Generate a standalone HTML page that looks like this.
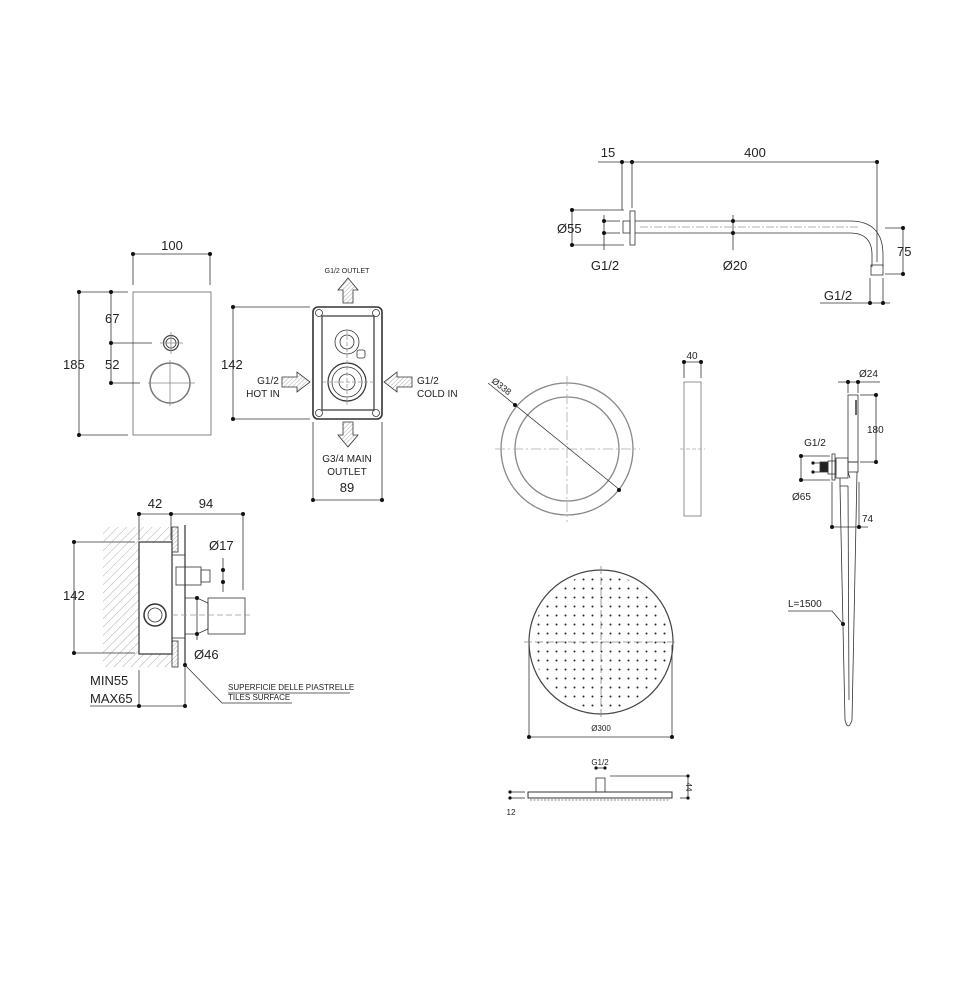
<!DOCTYPE html>
<html><head><meta charset="utf-8"><style>
html,body{margin:0;padding:0;background:#fff}
svg{display:block}
text{font-family:"Liberation Sans",sans-serif;fill:#222}
</style></head><body>
<svg width="978" height="984" viewBox="0 0 978 984" xmlns="http://www.w3.org/2000/svg">
<defs>
<pattern id="hatch" width="6" height="6" patternUnits="userSpaceOnUse" patternTransform="rotate(45)">
<line x1="0" y1="0" x2="0" y2="6" stroke="#999" stroke-width="0.8"/></pattern>
<pattern id="hatch2" width="3" height="3" patternUnits="userSpaceOnUse" patternTransform="rotate(45)">
<line x1="0" y1="0" x2="0" y2="3" stroke="#777" stroke-width="0.6"/></pattern>
<pattern id="holes" width="9" height="9" patternUnits="userSpaceOnUse" x="597" y="638">
<circle cx="4.5" cy="4.5" r="1" fill="#222"/></pattern>
<clipPath id="hc"><circle cx="601" cy="642" r="68"/></clipPath>
</defs>
<g stroke="#333" stroke-width="0.8" fill="none">
<!-- Left panel -->
<line x1="133" y1="254" x2="210" y2="254"/><line x1="133" y1="254" x2="133" y2="285"/><line x1="210" y1="254" x2="210" y2="285"/>
<rect x="133" y="292" width="78" height="143" stroke="#666"/>
<line x1="79" y1="292" x2="79" y2="435"/><line x1="79" y1="292" x2="128" y2="292"/><line x1="79" y1="435" x2="128" y2="435"/>
<line x1="111" y1="292" x2="111" y2="383"/><line x1="111" y1="343" x2="152" y2="343"/><line x1="111" y1="383" x2="140" y2="383"/>
<circle cx="171" cy="343" r="7.5" stroke="#444" stroke-width="1.2"/><circle cx="171" cy="343" r="5"/>
<line x1="160" y1="343" x2="183" y2="343" stroke="#888"/><line x1="171" y1="332" x2="171" y2="354" stroke="#888"/>
<circle cx="170" cy="383" r="20" stroke="#777" stroke-width="1.5"/>
<line x1="148" y1="383" x2="195" y2="383" stroke="#888"/><line x1="170" y1="360" x2="170" y2="406" stroke="#888"/>
<!-- Box -->
<line x1="233" y1="307" x2="310" y2="307"/><line x1="233" y1="419" x2="310" y2="419"/><line x1="233" y1="307" x2="233" y2="419"/>
<rect x="313" y="307" width="69" height="112" rx="5" stroke="#333" stroke-width="1.6"/>
<rect x="322" y="316" width="52" height="94" stroke-width="1.2"/>
<circle cx="319" cy="313" r="3.5"/><circle cx="376" cy="313" r="3.5"/><circle cx="319" cy="413" r="3.5"/><circle cx="376" cy="413" r="3.5"/>
<circle cx="347" cy="342" r="12"/><circle cx="347" cy="342" r="7"/>
<circle cx="347" cy="382" r="19" stroke-width="1.2"/><circle cx="347" cy="382" r="15"/><circle cx="347" cy="382" r="8"/>
<line x1="322" y1="382" x2="374" y2="382" stroke="#999" stroke-dasharray="4 2"/><line x1="347" y1="330" x2="347" y2="405" stroke="#999" stroke-dasharray="4 2"/>
<rect x="357" y="350" width="8" height="8" rx="2"/>
<line x1="313" y1="422" x2="313" y2="500"/><line x1="382" y1="422" x2="382" y2="500"/><line x1="313" y1="500" x2="382" y2="500"/>
<!-- arrows -->
<path d="M343 303 V290 H338 L348 278 L358 290 H353 V303 Z" fill="url(#hatch2)"/>
<path d="M343 422 V435 H338 L348 447 L358 435 H353 V422 Z" fill="url(#hatch2)"/>
<path d="M282 377 H297 V372 L310 382 L297 392 V387 H282 Z" fill="url(#hatch2)"/>
<path d="M412 377 H397 V372 L384 382 L397 392 V387 H412 Z" fill="url(#hatch2)"/>
<!-- Section -->
<path d="M103 527 H172 V667 H103" fill="url(#hatch)" stroke="none"/>
<rect x="139" y="542" width="33" height="112" fill="#fff" stroke-width="1.2"/>
<line x1="139" y1="514" x2="243" y2="514"/><line x1="139" y1="514" x2="139" y2="540"/><line x1="171" y1="514" x2="171" y2="540"/><line x1="243" y1="514" x2="243" y2="590"/>
<rect x="172" y="527" width="6" height="25" fill="url(#hatch2)"/><rect x="172" y="641" width="6" height="26" fill="url(#hatch2)"/>
<line x1="185" y1="525" x2="185" y2="665" stroke-width="1.2"/>
<rect x="172" y="555" width="13" height="83"/>
<rect x="176" y="567" width="25" height="18"/><rect x="201" y="570" width="9" height="12"/>
<path d="M185 598 H197 L208 603 V629 L197 634 H185" />
<rect x="208" y="598" width="37" height="36"/>
<circle cx="155" cy="615" r="11" stroke-width="1.5"/><circle cx="155" cy="615" r="7"/>
<line x1="172" y1="615" x2="250" y2="615" stroke="#999" stroke-dasharray="6 3"/>
<line x1="74" y1="542" x2="135" y2="542"/><line x1="74" y1="653" x2="135" y2="653"/><line x1="74" y1="542" x2="74" y2="653"/>
<line x1="223" y1="558" x2="223" y2="592"/><line x1="197" y1="598" x2="197" y2="640"/>
<line x1="90" y1="706" x2="185" y2="706"/><line x1="139" y1="670" x2="139" y2="706"/><line x1="185" y1="665" x2="185" y2="706"/>
<polyline points="185,665 222,703 292,703"/><line x1="228" y1="693" x2="350" y2="693"/>
<!-- shower arm -->
<line x1="598" y1="162" x2="877" y2="162"/><line x1="622" y1="162" x2="622" y2="210"/><line x1="632" y1="162" x2="632" y2="208"/><line x1="877" y1="162" x2="877" y2="262"/>
<rect x="630" y="211" width="5" height="34"/>
<rect x="623" y="221" width="7" height="12"/>
<path d="M635 221 H850 Q883 221 883 255 V267 M635 233 H850 Q872 233 872 255 V267"/>
<line x1="640" y1="227" x2="860" y2="227" stroke="#999" stroke-dasharray="8 2 2 2"/>
<rect x="871" y="265" width="12" height="10"/>
<line x1="572" y1="210" x2="624" y2="210"/><line x1="572" y1="245" x2="624" y2="245"/><line x1="572" y1="210" x2="572" y2="245"/>
<line x1="604" y1="221" x2="620" y2="221"/><line x1="604" y1="233" x2="620" y2="233"/><line x1="604" y1="215" x2="604" y2="250"/>
<line x1="733" y1="215" x2="733" y2="250"/>
<line x1="885" y1="228" x2="903" y2="228"/><line x1="885" y1="274" x2="903" y2="274"/><line x1="903" y1="228" x2="903" y2="274"/>
<line x1="820" y1="303" x2="890" y2="303"/><line x1="870" y1="278" x2="870" y2="303"/><line x1="883" y1="278" x2="883" y2="303"/>
<!-- ring -->
<circle cx="567" cy="449" r="66" stroke="#888" stroke-width="1.3"/><circle cx="567" cy="449" r="52" stroke="#888" stroke-width="1.3"/>
<line x1="495" y1="449" x2="640" y2="449" stroke="#aaa" stroke-dasharray="10 3 2 3"/><line x1="567" y1="376" x2="567" y2="522" stroke="#aaa" stroke-dasharray="10 3 2 3"/>
<line x1="488" y1="383" x2="620" y2="490"/>
<rect x="684" y="382" width="17" height="134" stroke="#777"/>
<line x1="684" y1="362" x2="701" y2="362"/><line x1="684" y1="362" x2="684" y2="378"/><line x1="701" y1="362" x2="701" y2="378"/>
<line x1="680" y1="449" x2="705" y2="449" stroke="#aaa" stroke-dasharray="4 2"/>
<!-- head plan -->
<rect x="529" y="570" width="144" height="144" fill="url(#holes)" stroke="none" clip-path="url(#hc)"/>
<circle cx="601" cy="642" r="72" stroke="#444" stroke-width="1.2"/>
<line x1="524" y1="642" x2="678" y2="642" stroke="#888" stroke-dasharray="8 3"/><line x1="601" y1="566" x2="601" y2="718" stroke="#888" stroke-dasharray="8 3"/>
<line x1="529" y1="737" x2="672" y2="737"/><line x1="529" y1="645" x2="529" y2="737"/><line x1="672" y1="645" x2="672" y2="737"/>
<!-- head side -->
<rect x="528" y="792" width="144" height="6" stroke-width="1"/>
<rect x="596" y="778" width="9" height="14"/>
<line x1="530" y1="800" x2="670" y2="800" stroke="#666" stroke-dasharray="2 1.5"/>
<line x1="596" y1="768" x2="605" y2="768"/>
<line x1="610" y1="776" x2="688" y2="776"/><line x1="680" y1="798" x2="688" y2="798"/><line x1="688" y1="776" x2="688" y2="798"/>
<line x1="510" y1="792" x2="525" y2="792"/><line x1="510" y1="798" x2="525" y2="798"/>
<!-- hand shower -->
<rect x="848" y="395" width="10" height="67"/>
<line x1="856" y1="400" x2="856" y2="415" stroke-width="1.5"/>
<rect x="848" y="462" width="10" height="10"/>
<rect x="836" y="458" width="12" height="20"/><rect x="828" y="461" width="8" height="13"/>
<rect x="832" y="454" width="3" height="26"/>
<path d="M840 478 V486 H848 M848 472 L850 478" />
<path d="M840 486 L845 720 Q848 732 852 720 L857 472"/>
<path d="M848 486 L849 700"/>
<rect x="820" y="462" width="8" height="10" fill="#222"/>
<line x1="838" y1="382" x2="880" y2="382"/><line x1="848" y1="382" x2="848" y2="393"/><line x1="858" y1="382" x2="858" y2="393"/>
<line x1="860" y1="395" x2="876" y2="395"/><line x1="860" y1="462" x2="876" y2="462"/><line x1="876" y1="395" x2="876" y2="462"/>
<line x1="801" y1="456" x2="830" y2="456"/><line x1="801" y1="480" x2="830" y2="480"/><line x1="801" y1="456" x2="801" y2="480"/>
<line x1="813" y1="463" x2="820" y2="463"/><line x1="813" y1="472" x2="820" y2="472"/>
<line x1="832" y1="482" x2="832" y2="527"/><line x1="859" y1="482" x2="859" y2="527"/><line x1="832" y1="527" x2="868" y2="527"/>
<polyline points="788,611 832,611 843,624"/>
</g>
<g fill="#111">
<circle cx="133" cy="254" r="2"/><circle cx="210" cy="254" r="2"/>
<circle cx="79" cy="292" r="2"/><circle cx="79" cy="435" r="2"/><circle cx="111" cy="292" r="2"/><circle cx="111" cy="343" r="2"/><circle cx="111" cy="383" r="2"/>
<circle cx="233" cy="307" r="2"/><circle cx="233" cy="419" r="2"/><circle cx="313" cy="500" r="2"/><circle cx="382" cy="500" r="2"/>
<circle cx="139" cy="514" r="2"/><circle cx="171" cy="514" r="2"/><circle cx="243" cy="514" r="2"/>
<circle cx="74" cy="542" r="2"/><circle cx="74" cy="653" r="2"/>
<circle cx="223" cy="570" r="2"/><circle cx="223" cy="582" r="2"/><circle cx="197" cy="598" r="2"/><circle cx="197" cy="634" r="2"/>
<circle cx="139" cy="706" r="2"/><circle cx="185" cy="706" r="2"/><circle cx="185" cy="665" r="2"/>
<circle cx="622" cy="162" r="2"/><circle cx="632" cy="162" r="2"/><circle cx="877" cy="162" r="2"/>
<circle cx="572" cy="210" r="2"/><circle cx="572" cy="245" r="2"/><circle cx="604" cy="221" r="2"/><circle cx="604" cy="233" r="2"/>
<circle cx="733" cy="221" r="2"/><circle cx="733" cy="233" r="2"/>
<circle cx="903" cy="228" r="2"/><circle cx="903" cy="274" r="2"/><circle cx="870" cy="303" r="2"/><circle cx="883" cy="303" r="2"/>
<circle cx="515" cy="405" r="2"/><circle cx="619" cy="490" r="2"/>
<circle cx="684" cy="362" r="2"/><circle cx="701" cy="362" r="2"/>
<circle cx="529" cy="737" r="2"/><circle cx="672" cy="737" r="2"/>
<circle cx="596" cy="768" r="1.6"/><circle cx="605" cy="768" r="1.6"/><circle cx="688" cy="776" r="1.6"/><circle cx="688" cy="798" r="1.6"/>
<circle cx="510" cy="792" r="1.6"/><circle cx="510" cy="798" r="1.6"/>
<circle cx="848" cy="382" r="2"/><circle cx="858" cy="382" r="2"/><circle cx="876" cy="395" r="2"/><circle cx="876" cy="462" r="2"/>
<circle cx="801" cy="456" r="2"/><circle cx="801" cy="480" r="2"/><circle cx="813" cy="463" r="1.6"/><circle cx="813" cy="472" r="1.6"/>
<circle cx="832" cy="527" r="2"/><circle cx="859" cy="527" r="2"/><circle cx="843" cy="624" r="2"/>
</g>
<g font-size="13">
<text x="172" y="250" text-anchor="middle">100</text>
<text x="105" y="323">67</text><text x="105" y="369">52</text><text x="63" y="369">185</text>
<text x="221" y="369">142</text>
<text x="347" y="492" text-anchor="middle">89</text>
<text x="155" y="508" text-anchor="middle">42</text><text x="206" y="508" text-anchor="middle">94</text>
<text x="63" y="600">142</text>
<text x="209" y="550">Ø17</text><text x="194" y="659">Ø46</text>
<text x="90" y="685">MIN55</text><text x="90" y="703">MAX65</text>
<text x="608" y="157" text-anchor="middle">15</text><text x="755" y="157" text-anchor="middle">400</text>
<text x="557" y="233">Ø55</text><text x="605" y="270" text-anchor="middle">G1/2</text>
<text x="735" y="270" text-anchor="middle">Ø20</text><text x="897" y="256">75</text>
<text x="838" y="300" text-anchor="middle">G1/2</text>
</g>
<g font-size="10">
<text x="347" y="273" text-anchor="middle" font-size="7">G1/2 OUTLET</text>
<text x="268" y="384" text-anchor="middle">G1/2</text><text x="263" y="397" text-anchor="middle">HOT IN</text>
<text x="417" y="384">G1/2</text><text x="417" y="397">COLD IN</text>
<text x="347" y="462" text-anchor="middle">G3/4 MAIN</text><text x="347" y="475" text-anchor="middle">OUTLET</text>
<text x="228" y="690" font-size="8">SUPERFICIE DELLE PIASTRELLE</text>
<text x="228" y="700" font-size="8">TILES SURFACE</text>
<text x="692" y="359" text-anchor="middle">40</text>
<text x="491" y="382" font-size="9" transform="rotate(38 491 382)">Ø338</text>
<text x="601" y="731" text-anchor="middle" font-size="8">Ø300</text>
<text x="600" y="765" text-anchor="middle" font-size="8">G1/2</text>
<text x="686" y="787" font-size="8" transform="rotate(90 686 787)" text-anchor="middle">44</text>
<text x="511" y="815" font-size="8" text-anchor="middle">12</text>
<text x="859" y="377">Ø24</text><text x="867" y="433">180</text>
<text x="815" y="446" text-anchor="middle">G1/2</text><text x="792" y="500">Ø65</text>
<text x="862" y="522">74</text><text x="788" y="607">L=1500</text>
</g>
</svg>
</body></html>
